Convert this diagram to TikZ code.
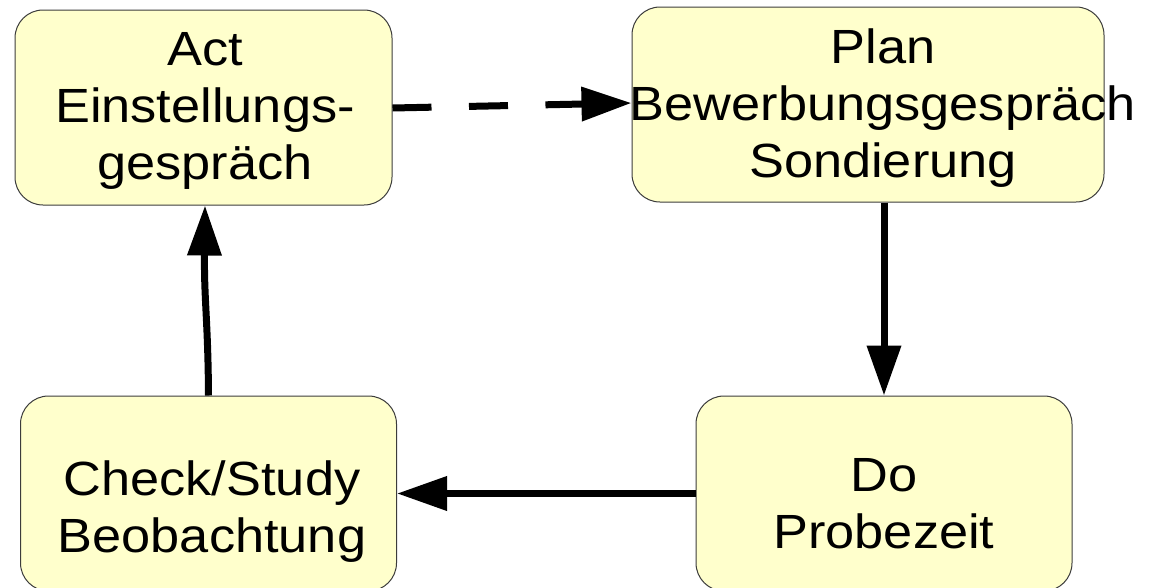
\documentclass[tikz,border=0pt]{standalone}
\usepackage{fontspec}
\setmainfont{Liberation Sans}[FakeStretch=1.09]
\usetikzlibrary{arrows.meta}
\definecolor{boxfill}{RGB}{255,255,204}
\definecolor{boxline}{RGB}{60,60,60}
\begin{document}
\begin{tikzpicture}[x=1pt,y=-1pt,
  stagebox/.style={draw=boxline, line width=1pt, fill=boxfill, rounded corners=28pt,
    minimum width=#1, minimum height=195pt, inner sep=0pt},
  stagetext/.style={align=center, inner sep=0pt, anchor=north,
    font=\fontsize{48}{57}\selectfont},
  flow/.style={line width=7pt, -{Triangle[length=50pt,width=33pt]}},
]
\clip (0,0) rectangle (1152,587);
\fill[white] (0,0) rectangle (1152,587);

% the four PDCA stages
\node[stagebox=377pt] (act)   at (203.5,107.5) {};
\node[stagebox=472pt] (plan)  at (868,104.5)   {};
\node[stagebox=376pt] (check) at (208.5,493.5) {};
\node[stagebox=376pt] (do)    at (884,493.5)   {};

\node[stagetext] (acttext)   at (205,32.6)  {Act\\Einstellungs-\\gespräch};
\node[stagetext] (plantext)  at (883,28.6)  {Plan\\Bewerbungsgespräch\\Sondierung};
\node[stagetext] (checktext) at (212,460.6) {Check/Study\\Beobachtung};
\node[stagetext] (dotext)    at (884,458.6) {Do\\Probezeit};

% cycle connectors
\draw[flow, dash pattern=on 39pt off 37.5pt]
  ([yshift=-0.5pt]act.east) -- ([yshift=1.5pt]plan.west);
\draw[flow] (do.north |- plan.south) -- (do.north);
\draw[flow] (do.west) -- (check.east);
\draw[flow] (check.north) .. controls (208,320) and (204,300) .. ([xshift=1.5pt]act.south);
\end{tikzpicture}
\end{document}
